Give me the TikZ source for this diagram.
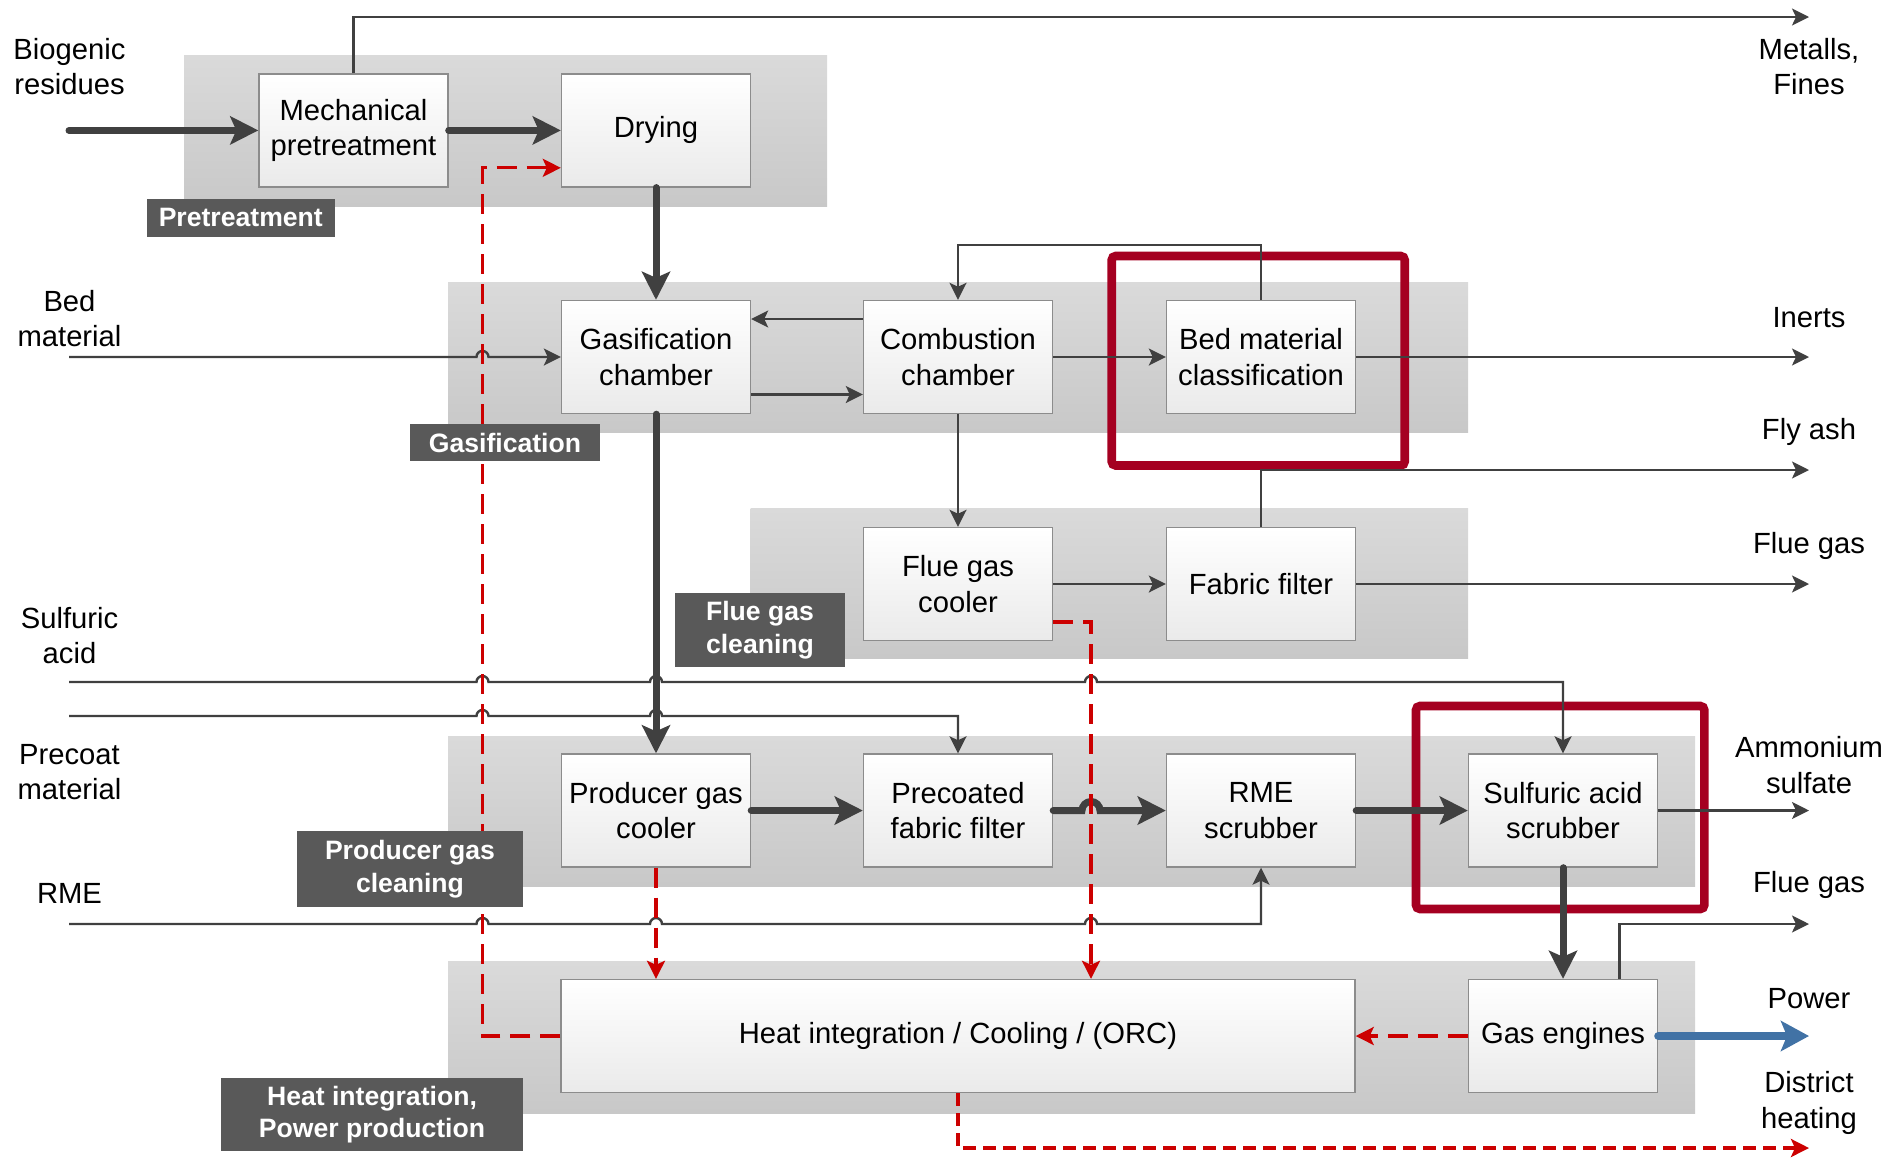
\documentclass[tikz,border=0pt]{standalone}
\usepackage{fontspec}
\setmainfont{Liberation Sans}
\usetikzlibrary{arrows.meta}
\definecolor{linec}{RGB}{64,64,64}
\definecolor{redc}{RGB}{204,0,0}
\definecolor{boxred}{RGB}{165,0,33}
\definecolor{bluec}{RGB}{65,114,165}
\definecolor{bandtop}{RGB}{218,218,218}
\definecolor{bandbot}{RGB}{200,200,200}
\definecolor{boxbot}{RGB}{234,234,234}
\definecolor{boxline}{RGB}{140,140,140}
\definecolor{labfill}{RGB}{89,89,89}
\newcommand\boxfont{\fontsize{14.6pt}{17.6pt}\selectfont}
\newcommand\labfont{\fontsize{13.3pt}{16.2pt}\selectfont\bfseries}
\begin{document}
\begin{tikzpicture}[x=0.5pt,y=-0.5pt,
 procbox/.style={draw=boxline, line width=0.7pt, top color=white, bottom color=boxbot, minimum width=94.5pt, minimum height=56.5pt, inner sep=0pt, align=center, font=\boxfont},
 band/.style={top color=bandtop, bottom color=bandbot, draw=none},
 darklab/.style={fill=labfill, text=white, font=\labfont, align=center, inner sep=0pt},
 extlab/.style={align=center, font=\boxfont, inner sep=0pt},
 thinc/.style={draw=linec, line width=1.2pt, -{Stealth[length=8.5pt,width=8.5pt,inset=2pt]}},
 thickc/.style={draw=linec, line width=3.5pt, line cap=round, -{Stealth[length=14pt,width=14pt,inset=3pt]}},
 reddash/.style={draw=redc, line width=1.6pt, dash pattern=on 10pt off 5pt, -{Stealth[length=9pt,width=9pt,inset=2pt]}},
 reddashb/.style={draw=redc, line width=2pt, dash pattern=on 6.5pt off 3.5pt, -{Stealth[length=9pt,width=9pt,inset=2pt]}},
 bluearr/.style={draw=bluec, line width=4pt, line cap=round, -{Stealth[length=14pt,width=15pt,inset=3pt]}},
 hilite/.style={draw=boxred, line width=4.3pt, rounded corners=2pt},
]
\useasboundingbox (0,0) rectangle (1901,1158);

% bands
\path[band] (184,55) rectangle (827,206.7);
\path[band] (448,282.5) rectangle (1468,432.8);
\path[band] (750.5,508) rectangle (1468,658);
\path[band] (448,736) rectangle (1695,886);
\path[band] (448,961.5) rectangle (1695,1113);

% highlight frames
\draw[hilite] (1111.7,256) rectangle (1404.7,465.5);
\draw[hilite] (1416,706) rectangle (1704.3,909);

% boxes
\node[procbox] (mech) at (353.5,130.4) {Mechanical\\pretreatment};
\node[procbox] (dry) at (656,130.4) {Drying};
\node[procbox] (gas) at (656,357) {Gasification\\chamber};
\node[procbox] (comb) at (958,357) {Combustion\\chamber};
\node[procbox] (bed) at (1261,357) {Bed material\\classification};
\node[procbox] (fgc) at (958,584) {Flue gas\\cooler};
\node[procbox] (fab) at (1261,584) {Fabric filter};
\node[procbox] (pgc) at (656,810.5) {Producer gas\\cooler};
\node[procbox] (pff) at (958,810.5) {Precoated\\fabric filter};
\node[procbox] (rme) at (1261,810.5) {RME\\scrubber};
\node[procbox] (sas) at (1563,810.5) {Sulfuric acid\\scrubber};
\node[procbox, minimum width=397pt] (hi) at (958,1036) {Heat integration / Cooling / (ORC)};
\node[procbox] (ge) at (1563,1036) {Gas engines};

% helper coordinates
\coordinate (inBio) at (69,130.4);
\coordinate (inBed) at (69,357);
\coordinate (inSulf) at (69,682);
\coordinate (inPrec) at (69,716);
\coordinate (inRME) at (69,924);
\coordinate (Xout) at (1809,0);
\coordinate (Xred) at (482.5,0);
\coordinate (Xfgc) at (1091,0);
\coordinate (Ytop) at (0,17);
\coordinate (Ybedtop) at (0,245);
\coordinate (Yfly) at (0,470);
\coordinate (Ysulf) at (0,682);
\coordinate (Yprec) at (0,716);
\coordinate (Yrme) at (0,924);
\coordinate (Ydry) at (0,167.8);
\coordinate (Ydh) at (0,1148);

% thick flows
\draw[thickc] (inBio) -- (mech.west);
\draw[thickc] (mech.east) -- (dry.west);
\draw[thickc] (dry.south) -- (gas.north);
\draw[thickc] (gas.south) -- (pgc.north);
\draw[thickc] (pgc.east) -- (pff.west);
\draw[thickc] (pff.east) -- (1082,810.5) arc[start angle=180,end angle=0,radius=4.5pt] -- (rme.west);
\draw[thickc] (rme.east) -- (sas.west);
\draw[thickc] (sas.south) -- (ge.north);

% thin flows
\draw[thinc] (mech.north) |- (Xout |- Ytop);
\draw[thinc] (inBed) -- (476.5,357) arc[start angle=180,end angle=0,radius=3pt] -- (gas.west);
\draw[thinc] ([yshift=19pt]comb.west) -- ([yshift=19pt]gas.east);
\draw[thinc] ([yshift=-18.75pt]gas.east) -- ([yshift=-18.75pt]comb.west);
\draw[thinc] (comb.east) -- (bed.west);
\draw[thinc] (bed.north) -- (bed.north |- Ybedtop) -| (comb.north);
\draw[thinc] (bed.east) -- (Xout |- bed.east);
\draw[thinc] (comb.south) -- (fgc.north);
\draw[thinc] (fgc.east) -- (fab.west);
\draw[thinc] (fab.east) -- (Xout |- fab.east);
\draw[thinc] (fab.north) |- (Xout |- Yfly);
\draw[thinc] (inSulf) -- (476.5,682) arc[start angle=180,end angle=0,radius=3pt] -- (650,682) arc[start angle=180,end angle=0,radius=3pt] -- (1085,682) arc[start angle=180,end angle=0,radius=3pt] -- (sas.north |- Ysulf) -- (sas.north);
\draw[thinc] (inPrec) -- (476.5,716) arc[start angle=180,end angle=0,radius=3pt] -- (650,716) arc[start angle=180,end angle=0,radius=3pt] -- (pff.north |- Yprec) -- (pff.north);
\draw[thinc] (inRME) -- (476.5,924) arc[start angle=180,end angle=0,radius=3pt] -- (650,924) arc[start angle=180,end angle=0,radius=3pt] -- (1085,924) arc[start angle=180,end angle=0,radius=3pt] -- (rme.south |- Yrme) -- (rme.south);
\draw[thinc] (sas.east) -- (Xout |- sas.east);
\draw[thinc] ([xshift=28.3pt]ge.north) |- (Xout |- Yrme);
\draw[bluearr] (ge.east) -- (Xout |- ge.east);

% heat flows
\draw[reddash] (hi.west) -| (Xred |- Ydry) -- ([yshift=-18.7pt]dry.west);
\draw[reddash] (pgc.south) -- (pgc.south |- hi.north);
\draw[reddash] ([yshift=-19pt]fgc.east) -| (Xfgc |- hi.north);
\draw[reddash] (ge.west) -- (hi.east);
\draw[reddashb] (hi.south) |- (Xout |- Ydh);

% section labels
\node[darklab, minimum width=94.25pt, minimum height=18.75pt] (lpre) at (240.8,217.8) {Pretreatment};
\node[darklab, minimum width=95pt, minimum height=18.5pt] (lgas) at (505,442.5) {Gasification};
\node[darklab, minimum width=85.25pt, minimum height=37.25pt] (lfgc) at (760,630) {Flue gas\\cleaning};
\node[darklab, minimum width=113.25pt, minimum height=37.85pt] (lpgc) at (410,869) {Producer gas\\cleaning};
\node[darklab, minimum width=151.25pt, minimum height=36.5pt] (lhi) at (372,1114.5) {Heat integration,\\Power production};

% external labels
\node[extlab] (tBio) at (69.5,66.7) {Biogenic\\residues};
\node[extlab] (tBed) at (69.5,318.9) {Bed\\material};
\node[extlab] (tSulf) at (69.5,635.3) {Sulfuric\\acid};
\node[extlab] (tPrec) at (69.5,772.3) {Precoat\\material};
\node[extlab] (tRME) at (69.5,893.5) {RME};
\node[extlab] (tMet) at (1809,66.7) {Metalls,\\Fines};
\node[extlab] (tIn) at (1809,317.6) {Inerts};
\node[extlab] (tFly) at (1809,431.6) {Fly ash};
\node[extlab] (tFg1) at (1809,545.6) {Flue gas};
\node[extlab] (tAm) at (1809,765) {Ammonium\\sulfate};
\node[extlab] (tFg2) at (1809,885) {Flue gas};
\node[extlab] (tPow) at (1809,999) {Power};
\node[extlab] (tDh) at (1809,1103) {District\\heating};
\end{tikzpicture}
\end{document}
